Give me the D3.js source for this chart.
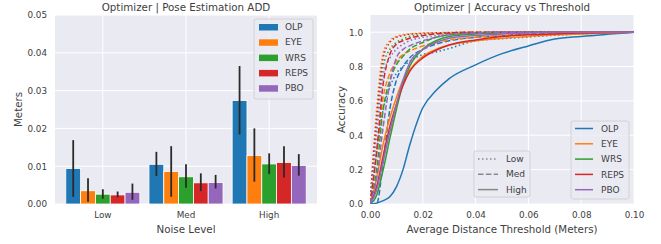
<!DOCTYPE html>
<meta charset="utf-8">
<style>
  body { margin: 0; background: #fff; }
  svg { font-family: "DejaVu Sans", sans-serif; }
  text { fill: #404040; }
</style>
<body>
<svg id="chart" width="661" height="244"></svg>
<script src="https://d3js.org/d3.v7.min.js"></script>
<script>
// ---- data ----
var noiseLevels = ["Low", "Med", "High"]
var methods = ["OLP", "EYE", "WRS", "REPS", "PBO"]
var colors = ["#1f77b4", "#ff7f0e", "#2ca02c", "#d62728", "#9467bd"]

// mean ADD error (m) per method, one array per noise level
var meanLow = [0.0094, 0.0035, 0.0026, 0.0024, 0.0031]
var meanMed = [0.0105, 0.0086, 0.0072, 0.0056, 0.0057]
var meanHigh = [0.0274, 0.0128, 0.0106, 0.0110, 0.0102]
// error bar ends
var errLoLow = [0.0019, 0.0006, 0.0014, 0.0018, 0.0011]
var errHiLow = [0.0169, 0.0068, 0.0039, 0.0033, 0.0054]
var errLoMed = [0.0074, 0.0019, 0.0043, 0.0034, 0.0041]
var errHiMed = [0.0138, 0.0153, 0.0105, 0.0081, 0.0077]
var errLoHigh = [0.0184, 0.0059, 0.0079, 0.0070, 0.0075]
var errHiHigh = [0.0365, 0.0200, 0.0134, 0.0153, 0.0132]

var barTicks = [0, 0.01, 0.02, 0.03, 0.04, 0.05]

// accuracy vs threshold curves, rows in method order
var thresholds = [0, 0.0025, 0.005, 0.0075, 0.01, 0.0125, 0.015, 0.02, 0.025, 0.03, 0.04, 0.05, 0.06, 0.07, 0.08, 0.1]
var accLow = [
  [0, 0.30, 0.55, 0.68, 0.76, 0.80, 0.83, 0.87, 0.885, 0.905, 0.95, 0.962, 0.972, 0.982, 0.99, 1],
  [0, 0.55, 0.88, 0.95, 0.975, 0.985, 0.99, 0.995, 0.997, 0.998, 1, 1, 1, 1, 1, 1],
  [0, 0.45, 0.80, 0.90, 0.94, 0.96, 0.975, 0.985, 0.99, 0.995, 0.998, 1, 1, 1, 1, 1],
  [0, 0.50, 0.85, 0.94, 0.97, 0.98, 0.988, 0.993, 0.996, 0.998, 1, 1, 1, 1, 1, 1],
  [0, 0.40, 0.75, 0.85, 0.90, 0.93, 0.95, 0.97, 0.98, 0.99, 0.995, 1, 1, 1, 1, 1]
]
var accMed = [
  [0, 0.0, 0.25, 0.55, 0.72, 0.80, 0.85, 0.90, 0.93, 0.95, 0.97, 0.98, 0.99, 0.995, 0.998, 1],
  [0, 0.30, 0.62, 0.76, 0.83, 0.87, 0.89, 0.92, 0.94, 0.955, 0.97, 0.98, 0.985, 0.99, 0.995, 1],
  [0, 0.20, 0.55, 0.72, 0.81, 0.86, 0.90, 0.94, 0.97, 0.985, 0.995, 1, 1, 1, 1, 1],
  [0, 0.30, 0.70, 0.87, 0.93, 0.95, 0.965, 0.98, 0.99, 0.995, 1, 1, 1, 1, 1, 1],
  [0, 0.15, 0.45, 0.70, 0.85, 0.90, 0.92, 0.95, 0.97, 0.985, 0.995, 1, 1, 1, 1, 1]
]
var accHigh = [
  [0, 0.005, 0.02, 0.042, 0.10, 0.20, 0.34, 0.56, 0.66, 0.73, 0.81, 0.875, 0.92, 0.96, 0.975, 1],
  [0, 0.15, 0.35, 0.50, 0.62, 0.72, 0.78, 0.86, 0.90, 0.925, 0.95, 0.965, 0.975, 0.985, 0.99, 1],
  [0, 0.05, 0.20, 0.38, 0.55, 0.70, 0.80, 0.90, 0.95, 0.975, 0.99, 0.995, 1, 1, 1, 1],
  [0, 0.10, 0.28, 0.45, 0.58, 0.69, 0.77, 0.85, 0.895, 0.925, 0.955, 0.975, 0.985, 0.99, 0.995, 1],
  [0, 0.08, 0.25, 0.42, 0.58, 0.72, 0.82, 0.90, 0.94, 0.965, 0.98, 0.99, 0.995, 1, 1, 1]
]
var accTicksX = [0, 0.02, 0.04, 0.06, 0.08, 0.10]
var accTicksY = [0, 0.2, 0.4, 0.6, 0.8, 1.0]
var lineStyles = [{ name: "Low", dash: "1.5,2.5" }, { name: "Med", dash: "5.5,2.4" }, { name: "High", dash: null }]

var bg = "#eaeaf2"
var svg = d3.select("#chart")

// ================= left: bar chart =================
var L = { left: 55, right: 317, top: 15, bottom: 204 }
var gL = svg.append("g")
gL.append("rect").attr("x", L.left).attr("y", L.top)
  .attr("width", L.right - L.left).attr("height", L.bottom - L.top).attr("fill", bg)

var x0 = d3.scaleBand().domain(noiseLevels).range([L.left, L.right])
  .paddingInner(0.11).paddingOuter(0.13)
var x1 = d3.scaleBand().domain(methods).range([0, x0.bandwidth()])
var yL = d3.scaleLinear().domain([0, 0.05]).range([L.bottom, L.top])

// grid
barTicks.forEach(function (t) {
  gL.append("line").attr("x1", L.left).attr("x2", L.right)
    .attr("y1", yL(t)).attr("y2", yL(t)).attr("stroke", "#fff").attr("stroke-width", 1)
})
noiseLevels.forEach(function (n) {
  var cx = x0(n) + x0.bandwidth() / 2
  gL.append("line").attr("x1", cx).attr("x2", cx)
    .attr("y1", L.top).attr("y2", L.bottom).attr("stroke", "#fff").attr("stroke-width", 1)
})

var barRows = [
  { level: "Low", mean: meanLow, lo: errLoLow, hi: errHiLow },
  { level: "Med", mean: meanMed, lo: errLoMed, hi: errHiMed },
  { level: "High", mean: meanHigh, lo: errLoHigh, hi: errHiHigh }
]
var bars = []
barRows.forEach(function (r) {
  methods.forEach(function (m, i) {
    bars.push({ level: r.level, method: m, i: i, v: r.mean[i], lo: r.lo[i], hi: r.hi[i] })
  })
})

gL.selectAll("rect.bar").data(bars).enter().append("rect")
  .attr("class", "bar")
  .attr("x", function (d) { return x0(d.level) + x1(d.method) })
  .attr("width", x1.bandwidth())
  .attr("y", function (d) { return yL(d.v) })
  .attr("height", function (d) { return yL(0) - yL(d.v) })
  .attr("fill", function (d) { return colors[d.i] })
  .attr("stroke", "#fff").attr("stroke-width", 0.8)

gL.selectAll("line.err").data(bars).enter().append("line")
  .attr("class", "err")
  .attr("x1", function (d) { return x0(d.level) + x1(d.method) + x1.bandwidth() / 2 })
  .attr("x2", function (d) { return x0(d.level) + x1(d.method) + x1.bandwidth() / 2 })
  .attr("y1", function (d) { return yL(d.lo) })
  .attr("y2", function (d) { return yL(d.hi) })
  .attr("stroke", "#2a2a2a").attr("stroke-width", 1.8)

// axes
var axL = d3.axisLeft(yL).tickValues(barTicks).tickFormat(d3.format(".2f")).tickSize(0).tickPadding(8)
gL.append("g").attr("transform", "translate(" + L.left + ",0)").call(axL)
var axB = d3.axisBottom(x0).tickSize(0).tickPadding(8)
gL.append("g").attr("transform", "translate(0," + L.bottom + ")").call(axB)
gL.selectAll(".domain").remove()
gL.selectAll(".tick text").attr("font-size", 8.8).attr("fill", "#404040").attr("font-family", "DejaVu Sans")

gL.append("text").attr("x", (L.left + L.right) / 2).attr("y", 11)
  .attr("text-anchor", "middle").attr("font-size", 10.3).text("Optimizer | Pose Estimation ADD")
gL.append("text").attr("x", (L.left + L.right) / 2).attr("y", 232.5)
  .attr("text-anchor", "middle").attr("font-size", 10.3).text("Noise Level")
gL.append("text").attr("transform", "translate(21.5," + (L.top + L.bottom) / 2 + ") rotate(-90)")
  .attr("text-anchor", "middle").attr("font-size", 10.3).text("Meters")

// legend
var legL = gL.append("g").attr("transform", "translate(254,19)")
legL.append("rect").attr("width", 59).attr("height", 80).attr("rx", 2)
  .attr("fill", bg).attr("fill-opacity", 0.8).attr("stroke", "#ccc").attr("stroke-width", 0.8)
methods.forEach(function (m, i) {
  var yy = 8 + i * 15.3
  legL.append("rect").attr("x", 5).attr("y", yy - 3).attr("width", 19).attr("height", 6.5)
    .attr("fill", colors[i])
  legL.append("text").attr("x", 31).attr("y", yy).attr("dy", "0.35em")
    .attr("font-size", 9).text(m)
})

// ================= right: accuracy curves =================
var R = { left: 370, right: 634, top: 15, bottom: 204 }
var gR = svg.append("g")
gR.append("rect").attr("x", R.left).attr("y", R.top)
  .attr("width", R.right - R.left).attr("height", R.bottom - R.top).attr("fill", bg)

var xR = d3.scaleLinear().domain([0, 0.1]).range([R.left, R.right])
var yR = d3.scaleLinear().domain([0, 1.1]).range([R.bottom, R.top])

accTicksY.forEach(function (t) {
  gR.append("line").attr("x1", R.left).attr("x2", R.right)
    .attr("y1", yR(t)).attr("y2", yR(t)).attr("stroke", "#fff").attr("stroke-width", 1)
})
accTicksX.forEach(function (t) {
  gR.append("line").attr("x1", xR(t)).attr("x2", xR(t))
    .attr("y1", R.top).attr("y2", R.bottom).attr("stroke", "#fff").attr("stroke-width", 1)
})

svg.append("clipPath").attr("id", "clipR").append("rect")
  .attr("x", R.left).attr("y", R.top).attr("width", R.right - R.left).attr("height", R.bottom - R.top)

var line = d3.line()
  .x(function (d) { return xR(d[0]) })
  .y(function (d) { return yR(d[1]) })
  .curve(d3.curveMonotoneX)

var curveG = gR.append("g").attr("clip-path", "url(#clipR)")
var levelData = [accLow, accMed, accHigh]
methods.forEach(function (m, i) {
  levelData.forEach(function (acc, li) {
    var pts = thresholds.map(function (t, k) { return [t, acc[i][k]] })
    curveG.append("path").attr("d", line(pts))
      .attr("fill", "none").attr("stroke", colors[i]).attr("stroke-width", 1.5)
      .attr("stroke-dasharray", lineStyles[li].dash)
  })
})

var axRL = d3.axisLeft(yR).tickValues(accTicksY).tickFormat(d3.format(".1f")).tickSize(0).tickPadding(7)
gR.append("g").attr("transform", "translate(" + R.left + ",0)").call(axRL)
var axRB = d3.axisBottom(xR).tickValues(accTicksX).tickFormat(d3.format(".2f")).tickSize(0).tickPadding(8)
gR.append("g").attr("transform", "translate(0," + R.bottom + ")").call(axRB)
gR.selectAll(".domain").remove()
gR.selectAll(".tick text").attr("font-size", 8.8).attr("fill", "#404040").attr("font-family", "DejaVu Sans")

gR.append("text").attr("x", (R.left + R.right) / 2).attr("y", 11)
  .attr("text-anchor", "middle").attr("font-size", 10.3).text("Optimizer | Accuracy vs Threshold")
gR.append("text").attr("x", (R.left + R.right) / 2).attr("y", 232.5)
  .attr("text-anchor", "middle").attr("font-size", 10.3).text("Average Distance Threshold (Meters)")
gR.append("text").attr("transform", "translate(344.5," + (R.top + R.bottom) / 2 + ") rotate(-90)")
  .attr("text-anchor", "middle").attr("font-size", 10.3).text("Accuracy")

// line style legend
var legS = gR.append("g").attr("transform", "translate(474,151)")
legS.append("rect").attr("width", 56).attr("height", 46).attr("rx", 2)
  .attr("fill", bg).attr("fill-opacity", 0.8).attr("stroke", "#ccc").attr("stroke-width", 0.8)
lineStyles.forEach(function (s, i) {
  var yy = 8 + i * 15.3
  legS.append("line").attr("x1", 4).attr("x2", 24).attr("y1", yy).attr("y2", yy)
    .attr("stroke", "#888").attr("stroke-width", 1.5).attr("stroke-dasharray", s.dash)
  legS.append("text").attr("x", 32).attr("y", yy).attr("dy", "0.35em")
    .attr("font-size", 9).text(s.name)
})

// colour legend
var legC = gR.append("g").attr("transform", "translate(571,121)")
legC.append("rect").attr("width", 58).attr("height", 78).attr("rx", 2)
  .attr("fill", bg).attr("fill-opacity", 0.8).attr("stroke", "#ccc").attr("stroke-width", 0.8)
methods.forEach(function (m, i) {
  var yy = 7.5 + i * 15.3
  legC.append("line").attr("x1", 4).attr("x2", 22).attr("y1", yy).attr("y2", yy)
    .attr("stroke", colors[i]).attr("stroke-width", 1.5)
  legC.append("text").attr("x", 30).attr("y", yy).attr("dy", "0.35em")
    .attr("font-size", 9).text(m)
})
</script>
</body>
